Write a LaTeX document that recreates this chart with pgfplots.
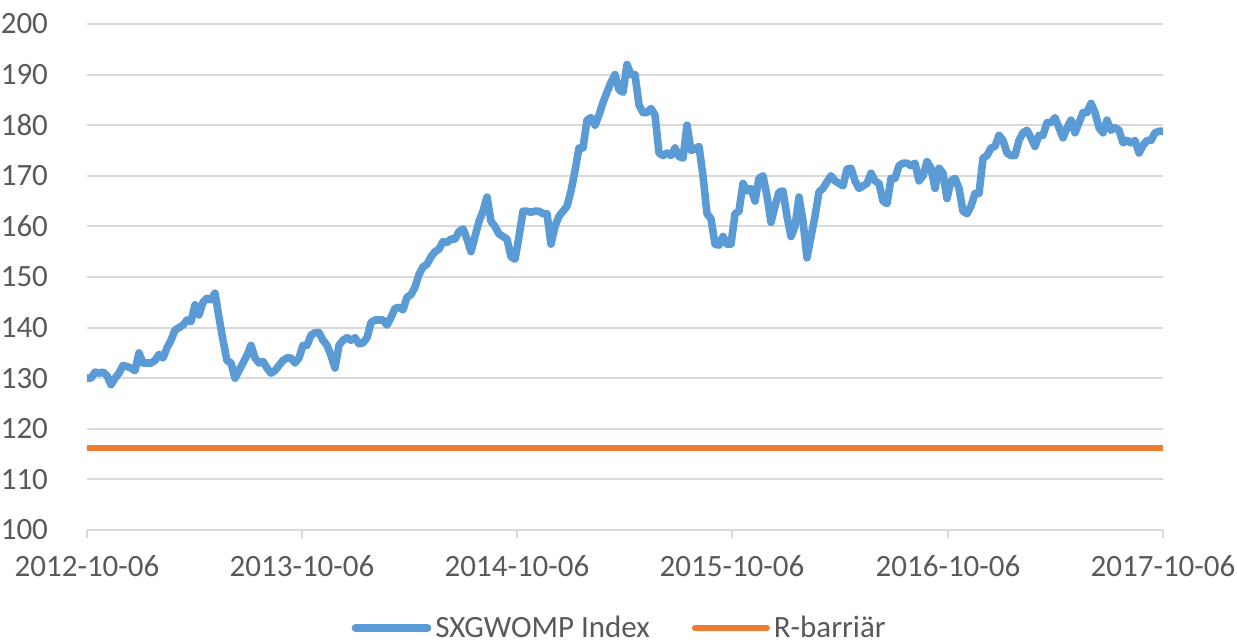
\documentclass[border=0pt]{standalone}
\usepackage{pgfplots}
\pgfplotsset{compat=1.18}
\usepackage{pgfplotstable}
\usepackage{fontspec}
\setmainfont{Carlito}
\definecolor{sxblue}{HTML}{5B9BD5}
\definecolor{rorange}{HTML}{ED7D31}
\definecolor{gridgray}{HTML}{D9D9D9}
\definecolor{txtgray}{HTML}{595959}
\pgfplotstableread{
v
130
130
131.2
131
131.2
130.5
128.7
130
131
132.5
132.3
132
131.5
135
133
133
133
133.5
134.7
134
136
137.5
139.5
140
140.5
141.5
141.2
144.5
142.5
145
145.8
145.5
146.8
142
137.5
133.5
133
130
131.5
133
134.5
136.5
134
133
133.3
132
131
131.5
132.5
133.5
134
134
133
134
136.5
136.5
138.5
139
139
137.5
136.5
134.5
132
136.5
137.5
138
137.5
138
136.8
137
138
141
141.5
141.5
141.5
140.5
142
143.8
144
143.5
146
146.5
148
150.5
152
152.5
154
155
155.5
157
156.8
157.5
157.5
159
159.5
157.5
155
158
161
163
165.8
161
160
158.5
158
157.5
154
153.5
158
163
163
162.8
163
163
162.5
162.5
156.5
160
162
163
164
167
171
175.5
175.5
181
181.5
180
182
184.5
186.5
188.5
190
187
186.5
192
190
190
184
182.5
182.5
183.3
182
174.5
174
174.5
174
175.5
173.8
173.5
180
175
175.3
175.8
170
162.5
161.5
156.5
156.3
158
156.5
156.5
162.5
163
168.5
167
167.5
165
169.5
170
166
160.8
164
166.8
167
162
158
160
165.8
161
153.8
158
162
166.8
167.5
168.8
170
169
168.5
168
171.3
171.5
169
167.5
168
168.5
170.5
169
168.5
165
164.5
169.5
169.5
172
172.5
172.5
172
172.5
169
170
172.8
171.5
167.5
171.5
170.5
165.5
169
169.5
167.5
163
162.5
164
166.5
166.5
173.5
174
175.5
175.8
178
177
174.5
174
174
177
178.5
179
177.5
175.8
178
178
180.5
180.5
181.5
179.5
177.5
179.5
181
178.5
180.5
182.5
182.5
184.3
182.5
179.5
178.5
181
179
179.5
179
176.5
177
176.5
177
174.5
176
177
177
178.5
178.8
178.8
}\sxdata
\begin{document}
\begin{tikzpicture}
\begin{axis}[
  name=ax,
  scale only axis,
  width=538pt, height=253pt,
  xmin=0, xmax=269,
  ymin=100, ymax=200,
  ytick={100,110,...,200},
  xtick={0,53.75,107.5,161.25,215.25,269},
  xticklabels={2012-10-06,2013-10-06,2014-10-06,2015-10-06,2016-10-06,2017-10-06},
  /pgf/number format/assume math mode=true,
  ymajorgrids,
  grid style={gridgray, line width=1pt},
  axis x line*=bottom,
  axis y line*=left,
  x axis line style={gridgray, line width=1pt},
  y axis line style={draw=none},
  xtick style={gridgray, line width=1pt},
  ytick style={draw=none},
  tick align=outside,
  major tick length=4pt,
  tick label style={font=\fontsize{15.5}{18}\selectfont, text=txtgray},
  yticklabel style={xshift=-12pt},
  xticklabel style={yshift=-5pt},
  clip=false,
  legend columns=2,
  legend style={at={(axis description cs:0.496,-0.1937)}, anchor=center, draw=none, fill=none,
    font=\fontsize{15.5}{18}\selectfont, text=txtgray,
    /tikz/every even column/.append style={column sep=19pt}},
  legend image code/.code={\draw[#1, line cap=round] (0pt,0pt) -- (36pt,0pt);},
]
\addplot[sxblue, line width=3.8pt, line join=round] table[x expr=\coordindex, y=v] {\sxdata};
\addlegendentry{SXGWOMP Index}
\addplot[rorange, line width=3pt] coordinates {(0,116.2) (269,116.2)};
\addlegendentry{R-barriär}
\end{axis}
\pgfresetboundingbox
\path[use as bounding box] ([xshift=-43.5pt,yshift=-56pt]ax.south west) rectangle ([xshift=37pt,yshift=12pt]ax.north east);
\end{tikzpicture}
\end{document}
